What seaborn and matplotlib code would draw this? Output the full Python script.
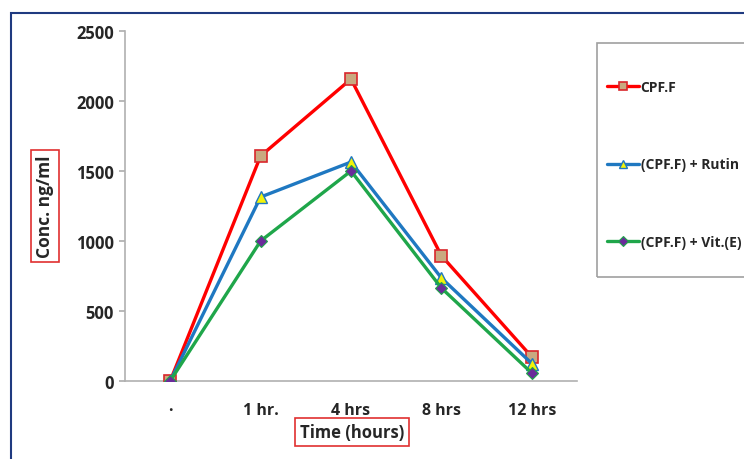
import matplotlib
matplotlib.use('Agg')
import matplotlib.pyplot as plt
import numpy as np
import pandas as pd
import seaborn as sns
from matplotlib.patches import Rectangle
from matplotlib.lines import Line2D

times = ['·', '1 hr.', '4 hrs', '8 hrs', '12 hrs']
cpf = [0, 1607, 2157, 895, 172]
rutin = [0, 1314, 1564, 736, 125]
vite = [0, 1000, 1500, 664, 57]
series_names = ['CPF.F', '(CPF.F) + Rutin', '(CPF.F) + Vit.(E)']

sns.set_theme(style='white')
plt.rcParams['font.family'] = ['Open Sans', 'DejaVu Sans']
plt.rcParams['font.weight'] = 'bold'

W, H = 744, 460
fig = plt.figure(figsize=(W / 100, H / 100), dpi=100)
ax = fig.add_axes([125 / W, (H - 382) / H, (577 - 125) / W, (382 - 32) / H])

x = np.arange(len(times))
styles = [
    dict(color='#FF0000', marker='s', markersize=8, markerfacecolor='#C9A980', markeredgecolor='#D9262B', markeredgewidth=1.2),
    dict(color='#1F78C1', marker='^', markersize=8, markerfacecolor='#F2F20A', markeredgecolor='#1F78C1', markeredgewidth=1.0),
    dict(color='#1FA64A', marker='D', markersize=6, markerfacecolor='#6A2B9A', markeredgecolor='#1FA64A', markeredgewidth=0.8),
]
for name, vals, st in zip(series_names, [cpf, rutin, vite], styles):
    sns.lineplot(x=x, y=vals, ax=ax, label=name, linewidth=2.4, **st)

ax.set_xlim(-0.5, 4.5)
ax.set_ylim(0, 2500)
ax.set_yticks([0, 500, 1000, 1500, 2000, 2500])
ax.set_xticks(x)
ax.set_xticklabels(times)
for s in ['top', 'right']:
    ax.spines[s].set_visible(False)
for s in ['left', 'bottom']:
    ax.spines[s].set_color('#B0B0B0')
    ax.spines[s].set_linewidth(1.2)
ax.spines['bottom'].set_zorder(0)
ax.tick_params(axis='y', which='both', left=True, length=4, color='#B0B0B0', labelsize=12, pad=4)
ax.tick_params(axis='x', which='both', bottom=False, labelsize=11.5, pad=9)
for lab in ax.get_xticklabels() + ax.get_yticklabels():
    lab.set_fontweight('bold')
ax.set_xlabel('')
ax.set_ylabel('')
ax.get_legend().remove()

# axis titles boxed in red
fig.text(45 / W, 1 - 207 / H, 'Conc. ng/ml', rotation=90, ha='center', va='center',
         fontsize=12.5, fontweight='bold',
         bbox=dict(boxstyle='square,pad=0.3', fc='white', ec='#E03030', lw=1.2))
fig.text(352 / W, 1 - 433 / H, 'Time (hours)', ha='center', va='center',
         fontsize=12, fontweight='bold',
         bbox=dict(boxstyle='square,pad=0.3', fc='white', ec='#E03030', lw=1.2))

# legend box
fig.patches.append(Rectangle((597 / W, 1 - 278 / H), 200 / W, (278 - 44) / H,
                             transform=fig.transFigure, fill=False, ec='#A0A0A0', lw=1.2))
handles = []
for st in styles:
    st2 = dict(st)
    st2['markersize'] = st['markersize'] * 0.8
    handles.append(Line2D([], [], linewidth=2.4, **st2))
fig.legend(handles, series_names, loc='upper left', bbox_to_anchor=(601 / W, 1 - 75 / H),
           frameon=False, handlelength=2.3, handletextpad=0.15, labelspacing=4.6,
           prop=dict(size=10, weight='bold'), borderaxespad=0)

# outer border
fig.patches.append(Rectangle((11 / W, -0.1), 1.0, 1 - 14 / H + 0.1,
                             transform=fig.transFigure, fill=False, ec='#1F3A80', lw=1.5))

fig.savefig('out.png', dpi=100)
